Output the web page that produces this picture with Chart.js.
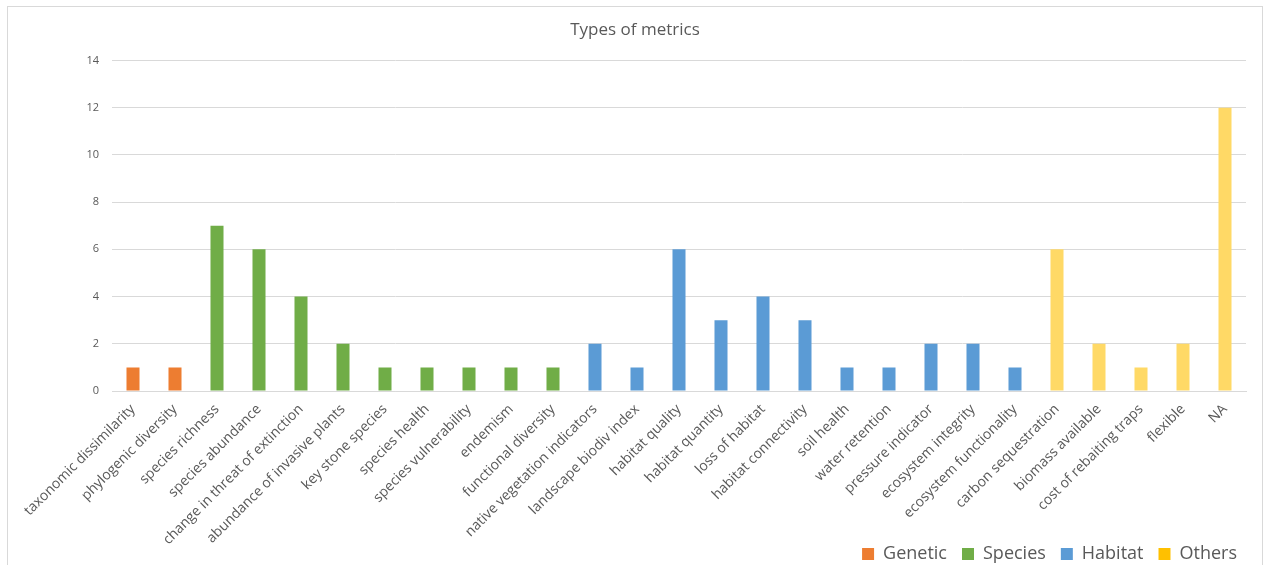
<!DOCTYPE html>
<html>
<head>
<meta charset="utf-8">
<script src="https://cdn.jsdelivr.net/npm/chart.js@4"></script>
<style>
    body { margin: 0; background: #fff; }
    .chart-box {
        position: absolute;
        left: 7px;
        top: 6px;
        width: 1254px;
        height: 566px;
        border: 1px solid #d9d9d9;
        border-bottom: none;
    }
</style>
</head>
<body>
<div class="chart-box">
    <canvas id="myChart" width="1254" height="566"></canvas>
</div>
<script>
const labels = [
    'taxonomic dissimilarity', 'phylogenic diversity', 'species richness', 'species abundance',
    'change in threat of extinction', 'abundance of invasive plants', 'key stone species',
    'species health', 'species vulnerability', 'endemism', 'functional diversity',
    'native vegetation indicators', 'landscape biodiv index', 'habitat quality', 'habitat quantity',
    'loss of habitat', 'habitat connectivity', 'soil health', 'water retention', 'pressure indicator',
    'ecosystem integrity', 'ecosystem functionality', 'carbon sequestration', 'biomass available',
    'cost of rebaiting traps', 'flexible', 'NA'
]
const values = [1, 1, 7, 6, 4, 2, 1, 1, 1, 1, 1, 2, 1, 6, 3, 4, 3, 1, 1, 2, 2, 1, 6, 2, 1, 2, 12]
const groups = [
    'Genetic', 'Genetic',
    'Species', 'Species', 'Species', 'Species', 'Species', 'Species', 'Species', 'Species', 'Species',
    'Habitat', 'Habitat', 'Habitat', 'Habitat', 'Habitat', 'Habitat', 'Habitat', 'Habitat', 'Habitat', 'Habitat', 'Habitat',
    'Others', 'Others', 'Others', 'Others', 'Others'
]
const groupNames = ['Genetic', 'Species', 'Habitat', 'Others']
const yTicks = [0, 2, 4, 6, 8, 10, 12, 14]

const barColors = { Genetic: '#ED7D31', Species: '#70AD47', Habitat: '#5B9BD5', Others: '#FFD966' }
const legendColors = { Genetic: '#ED7D31', Species: '#70AD47', Habitat: '#5B9BD5', Others: '#FFC000' }
const textColor = '#595959'
const gridColor = '#d9d9d9'
const font = 'Open Sans'

// long rotated labels run past the x scale box, so let them draw to the canvas bottom
const unclipLabels = {
    id: 'unclipLabels',
    beforeDraw: chart => { chart.scales.x.bottom = chart.height }
}

const ctx = document.getElementById('myChart')

new Chart(ctx, {
    type: 'bar',
    data: {
        labels: labels,
        datasets: [{
            label: 'Types of metrics',
            data: values,
            backgroundColor: groups.map(g => barColors[g]),
            categoryPercentage: 0.31,
            barPercentage: 1
        }]
    },
    plugins: [unclipLabels],
    options: {
        responsive: false,
        animation: false,
        layout: { padding: { left: 10, right: 10, top: 0, bottom: 0 } },
        plugins: {
            title: {
                display: true,
                text: 'Types of metrics',
                color: textColor,
                font: { family: font, size: 17, weight: 'normal' },
                padding: { top: 13, bottom: 20 }
            },
            legend: {
                position: 'bottom',
                align: 'end',
                labels: {
                    color: textColor,
                    font: { family: font, size: 18 },
                    boxWidth: 12,
                    boxHeight: 12,
                    padding: 15,
                    generateLabels: () => groupNames.map(name => ({
                        text: name,
                        fillStyle: legendColors[name],
                        strokeStyle: legendColors[name],
                        lineWidth: 0,
                        fontColor: textColor
                    }))
                }
            },
            tooltip: { enabled: false }
        },
        scales: {
            x: {
                afterFit: scale => { scale.height = 139 },
                grid: { display: false },
                border: { color: gridColor },
                ticks: {
                    color: textColor,
                    font: { family: font, size: 14 },
                    minRotation: 45,
                    maxRotation: 45,
                    autoSkip: false,
                    padding: 2
                }
            },
            y: {
                min: yTicks[0],
                max: yTicks[yTicks.length - 1],
                afterBuildTicks: scale => { scale.ticks = yTicks.map(v => ({ value: v })) },
                afterFit: scale => { scale.width = 94 },
                grid: { color: gridColor, drawTicks: false },
                border: { display: false },
                ticks: {
                    color: textColor,
                    font: { family: font, size: 11 },
                    padding: 13
                }
            },
            gap: {
                type: 'linear',
                position: 'right',
                afterFit: scale => { scale.width = 6 },
                grid: { display: false },
                border: { display: false },
                ticks: { display: false }
            }
        }
    }
})
</script>
</body>
</html>
